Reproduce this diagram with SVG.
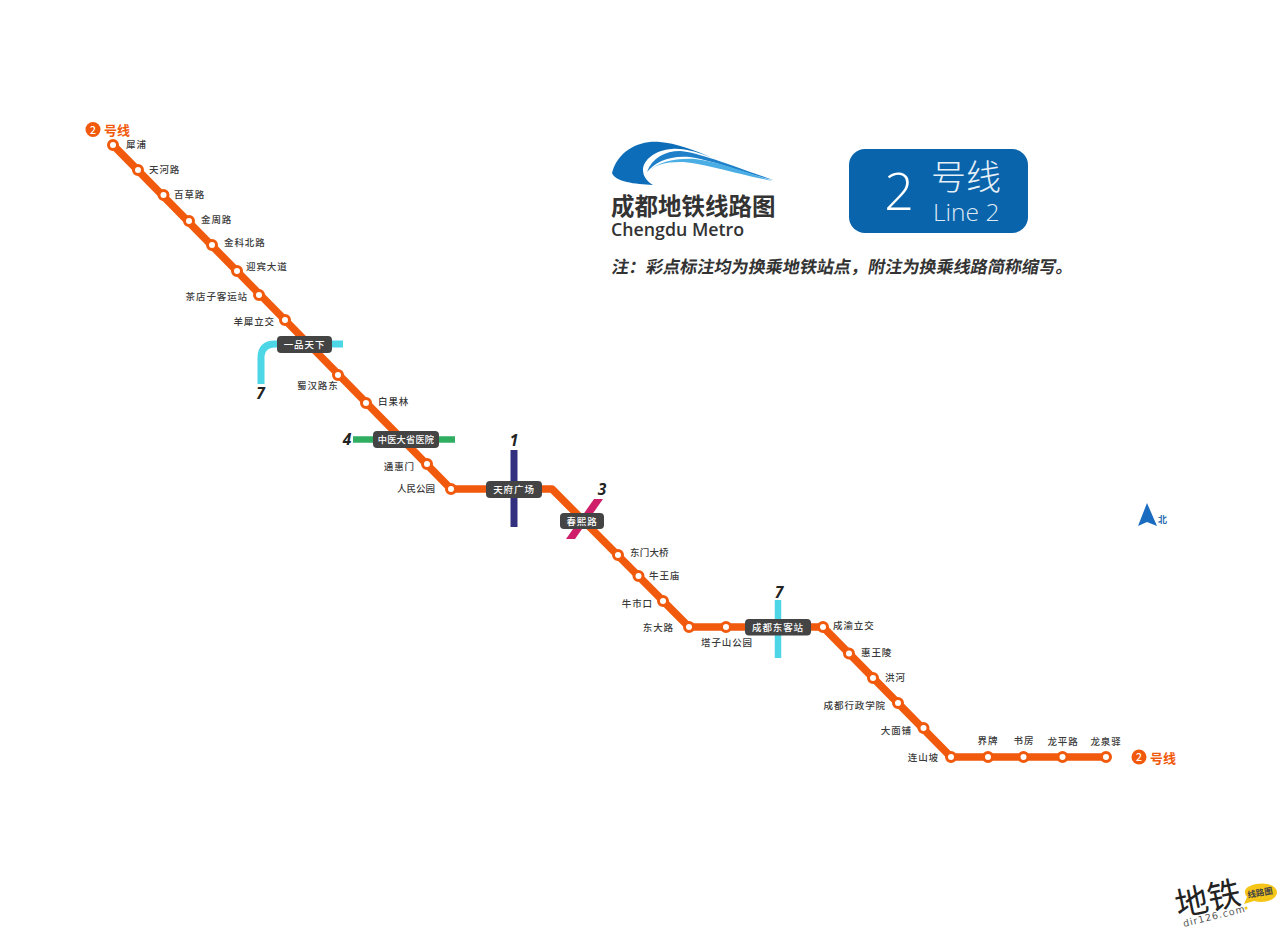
<svg xmlns="http://www.w3.org/2000/svg" width="1280" height="931" viewBox="0 0 1280 931">
<style>
text{font-family:"Noto Sans CJK SC","Noto Sans",sans-serif}
.s{font-size:9.5px;letter-spacing:.9px;fill:#3a3a3a;font-weight:500}
.sa{font-size:9.5px;letter-spacing:.9px;fill:#3a3a3a;font-weight:500;text-anchor:end}
.sm{font-size:9.5px;letter-spacing:.9px;fill:#3a3a3a;font-weight:500;text-anchor:middle}
.st{fill:#fff;stroke:#f15a0c;stroke-width:3}
.box{fill:#444}
.bt{font-size:9.5px;letter-spacing:.9px;fill:#fff;font-weight:500;text-anchor:middle}
.n{font-family:"Open Sans","Noto Sans",sans-serif;font-size:15.5px;font-style:italic;fill:#222;font-weight:700;text-anchor:middle}
.ln{fill:none;stroke-linejoin:round}
.lg{font-size:13px;fill:#f15a0c;font-weight:700}
.en{font-family:"Open Sans","Noto Sans",sans-serif}
</style>
<rect width="1280" height="931" fill="#fff"/>
<g id="connectors">
<path class="ln" d="M261 384V358Q261 344 275 344H343" stroke="#4cd6e6" stroke-width="7"/>
<path class="ln" d="M353 439.500H455" stroke="#2fae62" stroke-width="6.500"/>
<path class="ln" d="M514 450V527" stroke="#33307f" stroke-width="7"/>
<path d="M594 499H603L575 539H566Z" fill="#cf1f6b"/>
<path class="ln" d="M778 600V658" stroke="#4cd6e6" stroke-width="6.500"/>
<path class="ln" d="M113 145L451 489H552L689 627H823L951 757H1106" stroke="#f15a0c" stroke-width="7.500"/>
</g>
<g id="legend-start">
<circle cx="93" cy="129.500" r="7.500" fill="#f15a0c"/><text x="93" y="133.500" font-size="10.500" fill="#fff" text-anchor="middle" font-weight="500">2</text>
<text class="lg" x="104" y="134.500">号线</text>
</g>
<g id="legend-end">
<circle cx="1139" cy="757" r="7.500" fill="#f15a0c"/><text x="1139" y="761" font-size="10.500" fill="#fff" text-anchor="middle" font-weight="500">2</text>
<text class="lg" x="1150" y="762.500">号线</text>
</g>
<g id="s01"><circle class="st" cx="113" cy="145" r="4.500"/><text class="s" x="126" y="148">犀浦</text></g>
<g id="s02"><circle class="st" cx="138" cy="170" r="4.500"/><text class="s" x="149" y="173">天河路</text></g>
<g id="s03"><circle class="st" cx="163.500" cy="195" r="4.500"/><text class="s" x="174" y="198">百草路</text></g>
<g id="s04"><circle class="st" cx="189" cy="221" r="4.500"/><text class="s" x="201" y="223">金周路</text></g>
<g id="s05"><circle class="st" cx="212" cy="245" r="4.500"/><text class="s" x="224" y="246">金科北路</text></g>
<g id="s06"><circle class="st" cx="237" cy="271" r="4.500"/><text class="s" x="246" y="270">迎宾大道</text></g>
<g id="s07"><circle class="st" cx="259" cy="295" r="4.500"/><text class="sa" x="248" y="300">茶店子客运站</text></g>
<g id="s08"><circle class="st" cx="285" cy="320" r="4.500"/><text class="sa" x="275" y="325">羊犀立交</text></g>
<g id="s09"><rect class="box" x="277" y="336" width="55" height="17" rx="4"/><text class="bt" x="304.500" y="348">一品天下</text></g>
<g id="s10"><circle class="st" cx="338" cy="375" r="4.500"/><text class="s" x="297" y="389">蜀汉路东</text></g>
<g id="s11"><circle class="st" cx="366" cy="403" r="4.500"/><text class="s" x="378" y="405">白果林</text></g>
<g id="s12"><rect class="box" x="373" y="431" width="66" height="17" rx="4"/><text class="bt" x="406" y="443" style="font-size:9.200px;letter-spacing:.2px">中医大省医院</text></g>
<g id="s13"><circle class="st" cx="427" cy="464" r="4.500"/><text class="sa" x="415" y="470">通惠门</text></g>
<g id="s14"><circle class="st" cx="451" cy="489" r="4.500"/><text class="sa" x="435" y="492" style="letter-spacing:0">人民公园</text></g>
<g id="s15"><rect class="box" x="486" y="481" width="56" height="17" rx="4"/><text class="bt" x="514" y="493">天府广场</text></g>
<g id="s16"><rect class="box" x="560" y="513" width="44" height="16" rx="4"/><text class="bt" x="582" y="525">春熙路</text></g>
<g id="s17"><circle class="st" cx="618" cy="555" r="4.500"/><text class="s" x="630" y="556" style="letter-spacing:.2px">东门大桥</text></g>
<g id="s18"><circle class="st" cx="638.500" cy="576" r="4.500"/><text class="s" x="649" y="579">牛王庙</text></g>
<g id="s19"><circle class="st" cx="663" cy="601" r="4.500"/><text class="sa" x="653" y="607">牛市口</text></g>
<g id="s20"><circle class="st" cx="689" cy="627" r="4.500"/><text class="sa" x="674" y="631">东大路</text></g>
<g id="s21"><circle class="st" cx="726" cy="627" r="4.500"/><text class="s" x="701" y="646">塔子山公园</text></g>
<g id="s22"><rect class="box" x="745" y="619" width="66" height="16.500" rx="4"/><text class="bt" x="778" y="631">成都东客站</text></g>
<g id="s23"><circle class="st" cx="823" cy="627" r="4.500"/><text class="s" x="833" y="629">成渝立交</text></g>
<g id="s24"><circle class="st" cx="849" cy="653.500" r="4.500"/><text class="s" x="861" y="656">惠王陵</text></g>
<g id="s25"><circle class="st" cx="873" cy="678" r="4.500"/><text class="s" x="885" y="681">洪河</text></g>
<g id="s26"><circle class="st" cx="898" cy="703" r="4.500"/><text class="sa" x="886" y="709">成都行政学院</text></g>
<g id="s27"><circle class="st" cx="923.500" cy="728" r="4.500"/><text class="sa" x="912" y="734">大面铺</text></g>
<g id="s28"><circle class="st" cx="951" cy="757" r="4.500"/><text class="sa" x="939" y="761">连山坡</text></g>
<g id="s29"><circle class="st" cx="988" cy="757" r="4.500"/><text class="sm" x="988" y="744">界牌</text></g>
<g id="s30"><circle class="st" cx="1023.500" cy="757" r="4.500"/><text class="sm" x="1024" y="744">书房</text></g>
<g id="s31"><circle class="st" cx="1062.500" cy="757" r="4.500"/><text class="sm" x="1063" y="745">龙平路</text></g>
<g id="s32"><circle class="st" cx="1106" cy="757" r="4.500"/><text class="sm" x="1106" y="745">龙泉驿</text></g>
<text class="n" x="260.500" y="399">7</text>
<text class="n" x="347" y="445">4</text>
<text class="n" x="514" y="446">1</text>
<text class="n" x="602" y="495">3</text>
<text class="n" x="779" y="598">7</text>
<g id="logo">
<path d="M612 173C618 150 640 140 660 142C675 143 695 150 712 158C700 153 685 148 672 149C655 150 643 160 643 170C643 177 648 182 653 185C635 184 615 182 612 173Z" fill="#0d6db8"/>
<path d="M647 172C652 158 665 151 680 151C695 152 720 161 773 180C740 172 715 161 690 157C670 155 655 162 647 172Z" fill="#1f80c9"/>
<path d="M650 171C658 162 675 158 695 159C720 162 745 172 773 181C740 175 700 162 680 162C665 162 655 165 650 171Z" fill="#4aaee4"/>
<text x="611" y="215" font-size="23.500px" font-weight="700" fill="#333">成都地铁线路图</text>
<text class="en" x="611" y="236" font-size="17.800px" font-weight="600" fill="#333">Chengdu Metro</text>
</g>
<g id="line-badge">
<rect x="849" y="149" width="179" height="84" rx="16" fill="#0a64ac"/>
<text class="en" x="899" y="210" font-size="52px" font-weight="300" fill="#fff" text-anchor="middle">2</text>
<text x="931" y="190" font-size="35px" font-weight="300" fill="#e8f1f8">号线</text>
<text class="en" x="933" y="221" font-size="24.500px" font-weight="300" fill="#dfeaf4">Line 2</text>
</g>
<text id="note" transform="translate(611 273) skewX(-10)" font-size="17.100px" font-weight="700" fill="#333">注：彩点标注均为换乘地铁站点，附注为换乘线路简称缩写。</text>
<g id="north">
<path d="M1147 503L1157 526L1147 522L1138 526Z" fill="#1a6cc0"/>
<text x="1158" y="523" font-size="9px" font-weight="700" fill="#2a6cb0">北</text>
</g>
<g id="watermark">
<path d="M1250 886C1262 881 1276 884 1277 892C1277 900 1264 904 1254 901L1244 904L1247 897C1243 892 1245 888 1250 886Z" fill="#f5c518"/>
<circle cx="1246" cy="908" r="1.500" fill="#f5c518"/>
<text x="1178" y="917" font-size="33px" font-weight="400" fill="#222" transform="rotate(-12 1178 917)">地铁</text>
<text x="1248" y="898" font-size="8.500px" font-weight="700" fill="#444" transform="rotate(-10 1248 898)">线路图</text>
<text x="1184" y="927" style="font-family:'DejaVu Sans',sans-serif" font-size="9.500px" fill="#555" letter-spacing="1" transform="rotate(-14 1184 927)">dir126.com</text>
</g>
</svg>
